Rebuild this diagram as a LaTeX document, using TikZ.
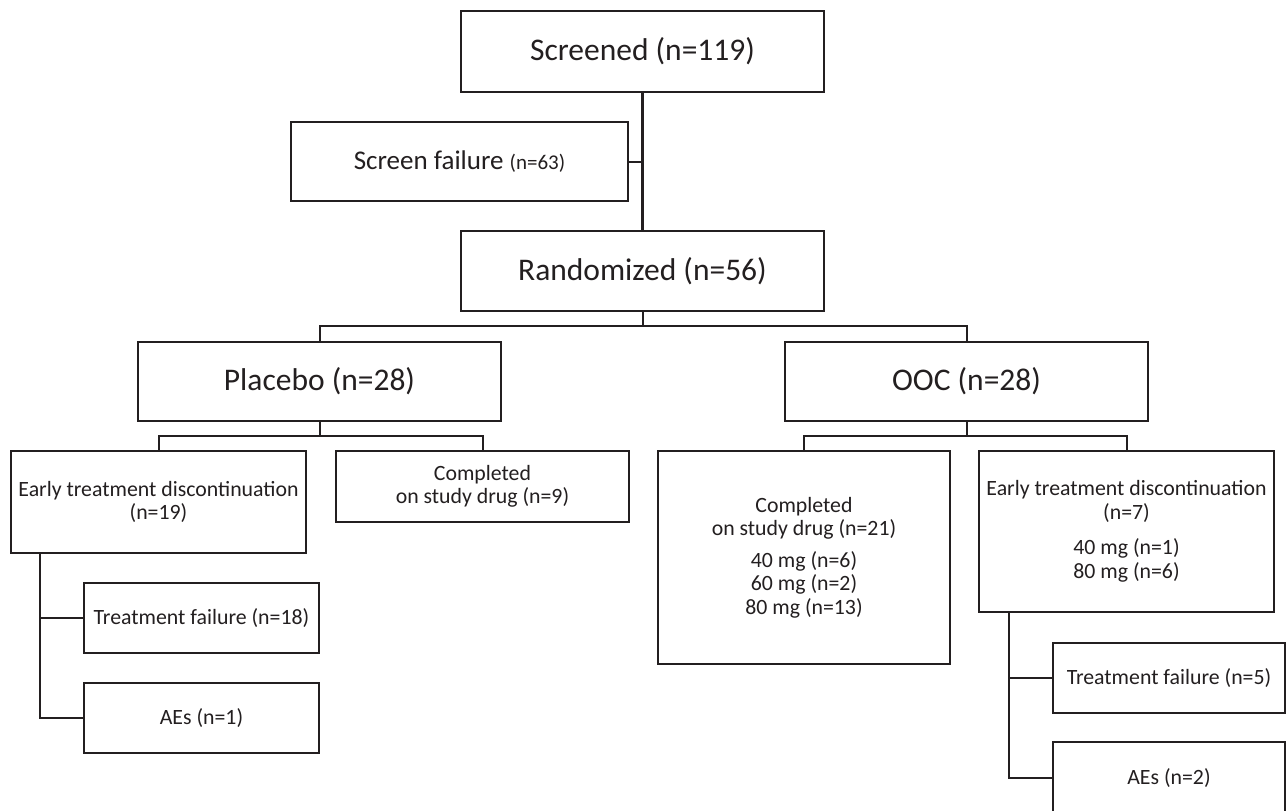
\documentclass[tikz,border=0pt]{standalone}
\usepackage{fontspec}
\setmainfont{Carlito}
\definecolor{ink}{HTML}{231F20}
\tikzset{
  box/.style={draw=ink, line width=2.8pt, rectangle, inner sep=0pt, outer sep=0pt, align=center, text=ink},
  bigtxt/.style={font=\fontsize{31.5}{37}\selectfont},
  midtxt/.style={font=\fontsize{27}{32}\selectfont},
  smalltxt/.style={font=\fontsize{21.8}{23.5}\selectfont},
  trunk/.style={draw=ink, line width=2.7pt},
  link/.style={draw=ink, line width=2pt},
}
\begin{document}
\begin{tikzpicture}[x=1pt,y=-1pt]
\clip (0,0) rectangle (1286,811);
\fill[white] (0,0) rectangle (1286,811);

% top level
\node[box,bigtxt,minimum width=363pt,minimum height=81pt] (scr) at (642.5,51.5) {Screened (n=119)};
\node[box,midtxt,minimum width=337pt,minimum height=79pt] (sf) at (459.5,161.5) {Screen failure {\fontsize{21}{24}\selectfont (n=63)}};
\node[box,bigtxt,minimum width=363pt,minimum height=80pt] (rand) at (642.5,271) {Randomized (n=56)};
\node[box,bigtxt,minimum width=363pt,minimum height=79pt] (plac) at (319.5,381.5) {Placebo (n=28)};
\node[box,bigtxt,minimum width=363pt,minimum height=79pt] (ooc) at (966.5,381.5) {OOC (n=28)};

% placebo arm
\node[box,smalltxt,minimum width=295pt,minimum height=102pt] (etdL) at (158.5,502) {Early treatment discontinuation\\(n=19)};
\node[box,smalltxt,minimum width=293pt,minimum height=71pt] (compL) at (482.5,486.5) {Completed\\on study drug (n=9)};
\node[box,smalltxt,minimum width=235pt,minimum height=70pt] (tfL) at (201.5,618) {Treatment failure (n=18)};
\node[box,smalltxt,minimum width=235pt,minimum height=70pt] (aeL) at (201.5,718) {AEs (n=1)};

% OOC arm
\node[box,smalltxt,minimum width=292pt,minimum height=213pt] (compR) at (804,557.5) {Completed\\on study drug (n=21)\\[8pt]40 mg (n=6)\\60 mg (n=2)\\80 mg (n=13)};
\node[box,smalltxt,minimum width=295pt,minimum height=161pt] (etdR) at (1126.5,531.5) {Early treatment discontinuation\\(n=7)\\[12pt]40 mg (n=1)\\80 mg (n=6)};
\node[box,smalltxt,minimum width=232pt,minimum height=70pt] (tfR) at (1169,678) {Treatment failure (n=5)};
\node[box,smalltxt,minimum width=232pt,minimum height=72pt] (aeR) at (1169,778) {AEs (n=2)};

% connectors
\draw[trunk] (scr.south) -- (rand.north);
\draw[link] (sf.east) -- (sf.east -| scr.south);
\draw[link] (rand.south) -- ++(0,15) -| (plac.north);
\draw[link] (rand.south) ++(0,15) -| (ooc.north);
\draw[link] (plac.south) -- ++(0,15) -| (etdL.north);
\draw[link] (plac.south) ++(0,15) -| (compL.north);
\draw[link] (ooc.south) -- ++(0,15) -| (compR.north);
\draw[link] (ooc.south) ++(0,15) -| (etdR.north);
\draw[link] ([xshift=29pt]etdL.south west) |- (tfL.west);
\draw[link] ([xshift=29pt]etdL.south west) |- (aeL.west);
\draw[link] ([xshift=30pt]etdR.south west) |- (tfR.west);
\draw[link] ([xshift=30pt]etdR.south west) |- (aeR.west);
\end{tikzpicture}
\end{document}
